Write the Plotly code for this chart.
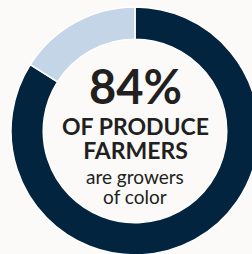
import plotly.graph_objects as go

labels = ["Growers of color", "Other growers"]
values = [84, 16]
colors = ["#03243f", "#c4d5e7"]

headline = "84%"
bold_lines = ["OF PRODUCE", "FARMERS"]
light_lines = ["are growers", "of color"]

W, H = 270, 262
cx, cy, r = 135, 131, 124

fig = go.Figure(go.Pie(
    labels=labels, values=values, hole=0.74, sort=False,
    direction="clockwise", rotation=0,
    marker=dict(colors=colors, line=dict(color="#ffffff", width=1.5)),
    textinfo="none", hoverinfo="skip", showlegend=False,
    domain=dict(x=[(cx - r) / W, (cx + r) / W], y=[(H - cy - r) / H, (H - cy + r) / H]),
))

def ann(text, ypx, size):
    fig.add_annotation(
        text=text, x=cx / W, y=1 - ypx / H, xref="paper", yref="paper",
        xanchor="center", yanchor="middle", align="center", showarrow=False,
        font=dict(family="Lato", size=size, color="#211f20"),
    )

ann(f"<b>{headline}</b>", 86, 47)
ann("<br>".join(f"<span style='font-size:23px'><b>{t}</b></span>" for t in bold_lines), 138, 18.5)
ann("<br>".join(f"<span style='font-size:19px'>{t}</span>" for t in light_lines), 186, 15.5)

fig.update_layout(
    width=W, height=H, margin=dict(l=0, r=0, t=0, b=0),
    paper_bgcolor="#fbfaf8", plot_bgcolor="#fbfaf8",
)

fig.write_html(
    "out.html", config={"displayModeBar": False},
    post_script="document.body.style.margin='0';document.body.style.overflow='hidden';document.documentElement.style.overflow='hidden';",
)
